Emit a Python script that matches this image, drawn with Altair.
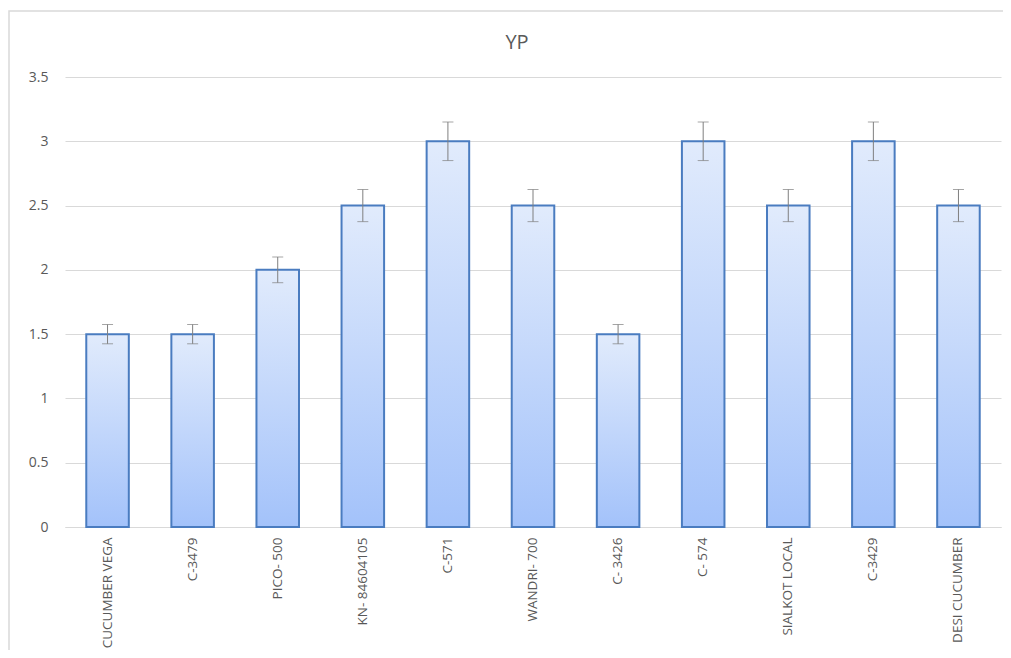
import altair as alt
import pandas as pd

categories = ["CUCUMBER VEGA", "C-3479", "PICO- 500", "KN- 84604105", "C-571",
              "WANDRI- 700", "C- 3426", "C- 574", "SIALKOT LOCAL", "C-3429", "DESI CUCUMBER"]
values = [1.5, 1.5, 2.0, 2.5, 3.0, 2.5, 1.5, 3.0, 2.5, 3.0, 2.5]
errors = [0.075, 0.075, 0.10, 0.125, 0.15, 0.125, 0.075, 0.15, 0.125, 0.15, 0.125]
title_text = ["YP"]

df = pd.DataFrame({"cat": categories, "val": values, "err": errors})
df["lo"] = df["val"] - df["err"]
df["hi"] = df["val"] + df["err"]

FONT = "Liberation Sans Narrow, Open Sans, sans-serif"
GREY = "#595959"

xenc = alt.X("cat:N", sort=categories, title=None,
             scale=alt.Scale(paddingInner=0.5, paddingOuter=0.25),
             axis=alt.Axis(labelAngle=-90, labelPadding=10, ticks=False, grid=False,
                           domainColor="#d9d9d9", domainWidth=1,
                           labelColor=GREY, labelFontSize=13.5, labelFont=FONT))

base = alt.Chart(df)

bars = base.mark_bar(
    color=alt.Gradient(gradient="linear",
                       stops=[alt.GradientStop(color="#e1ebfc", offset=0),
                              alt.GradientStop(color="#a3c2fa", offset=1)],
                       x1=0, x2=0, y1=0, y2=1),
    stroke="#4a7cc0", strokeWidth=2
).encode(
    x=xenc,
    y=alt.Y("val:Q", title=None,
            scale=alt.Scale(domain=[0, 3.5], nice=False),
            axis=alt.Axis(values=[0, 0.5, 1, 1.5, 2, 2.5, 3, 3.5], format="~g",
                          ticks=False, domain=False, grid=True, gridColor="#d9d9d9",
                          labelPadding=17, labelColor=GREY, labelFontSize=14,
                          labelFont="Open Sans"))
)

rule = base.mark_rule(color="#7f7f7f", strokeWidth=1).encode(
    x=alt.X("cat:N", sort=categories), y="lo:Q", y2="hi:Q")
cap_hi = base.mark_tick(color="#7f7f7f", thickness=1, size=11, orient="horizontal").encode(
    x=alt.X("cat:N", sort=categories), y="hi:Q")
cap_lo = base.mark_tick(color="#7f7f7f", thickness=1, size=11, orient="horizontal").encode(
    x=alt.X("cat:N", sort=categories), y="lo:Q")

frame = alt.Chart(pd.DataFrame({"a": [0]})).mark_rect(
    fill=None, stroke="#d9d9d9", strokeWidth=1.5, clip=False
).encode(x=alt.value(-56), x2=alt.value(1000), y=alt.value(-66), y2=alt.value(700))

title = alt.Chart(pd.DataFrame({"t": title_text})).mark_text(
    font="Open Sans", fontSize=20, color=GREY, baseline="middle", align="center"
).encode(x=alt.value(452), y=alt.value(-34), text="t:N")

chart = alt.layer(frame, bars, rule, cap_hi, cap_lo, title).properties(
    width=936, height=450,
    autosize=alt.AutoSizeParams(type="none"),
    padding={"left": 57, "top": 69, "right": 2, "bottom": 123}
).configure_view(stroke=None)

chart.save("out.html", embed_options={"renderer": "svg", "actions": False})
